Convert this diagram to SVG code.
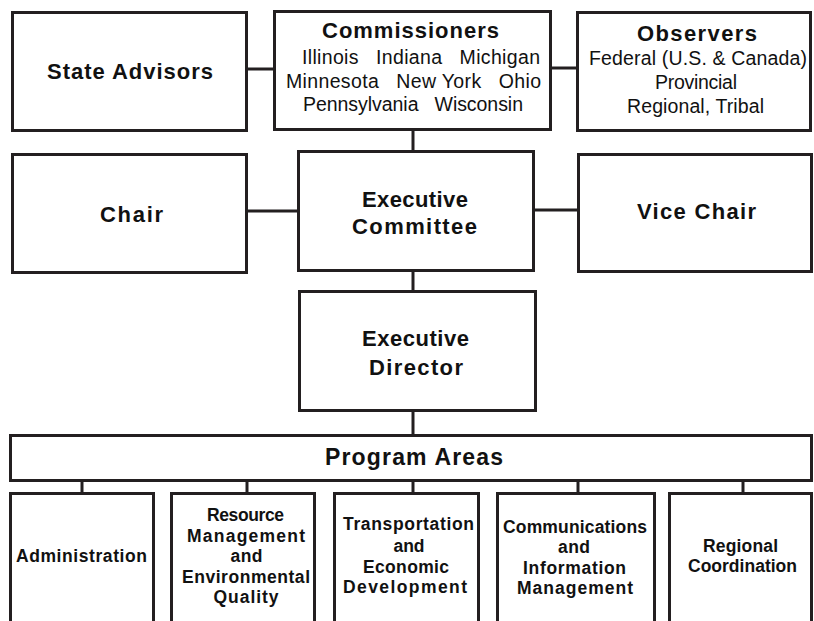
<svg xmlns="http://www.w3.org/2000/svg" width="814" height="621" viewBox="0 0 814 621">
<style>
.box{fill:#fff;stroke:#231f20;stroke-width:3}
.ln{stroke:#231f20;stroke-width:3;fill:none}
text{font-family:"Liberation Sans",Arial,sans-serif;fill:#111}
.b{font-weight:bold;text-anchor:middle}
.big{font-size:22px}
.mid{font-size:22px}
.sm{font-size:17.5px}
.r{font-weight:normal;font-size:19.5px}
.c{text-anchor:middle}
</style>
<rect width="814" height="621" fill="#fff"/>
<g id="connectors">
<line class="ln" x1="247" y1="69" x2="275" y2="69"/>
<line class="ln" x1="550" y1="68" x2="579" y2="68"/>
<line class="ln" x1="413" y1="130" x2="413" y2="152"/>
<line class="ln" x1="247" y1="211" x2="299" y2="211"/>
<line class="ln" x1="533" y1="210" x2="579" y2="210"/>
<line class="ln" x1="413" y1="270" x2="413" y2="292"/>
<line class="ln" x1="413" y1="410" x2="413" y2="436"/>
<line class="ln" x1="82" y1="480" x2="82" y2="494"/>
<line class="ln" x1="247" y1="480" x2="247" y2="494"/>
<line class="ln" x1="413" y1="480" x2="413" y2="494"/>
<line class="ln" x1="578" y1="480" x2="578" y2="494"/>
<line class="ln" x1="743" y1="480" x2="743" y2="494"/>
</g>
<g id="state-advisors">
<rect class="box" x="12.5" y="12.5" width="234" height="118"/>
<text class="b big" x="130" y="79" textLength="166" lengthAdjust="spacing">State Advisors</text>
</g>
<g id="commissioners">
<rect class="box" x="274.5" y="11.5" width="276" height="118"/>
<text class="b mid" x="410.5" y="38" textLength="177" lengthAdjust="spacing">Commissioners</text>
<text class="r" x="302" y="64" xml:space="preserve" textLength="238" lengthAdjust="spacing">Illinois   Indiana   Michigan</text>
<text class="r" x="286" y="88" xml:space="preserve" textLength="255" lengthAdjust="spacing">Minnesota   New York   Ohio</text>
<text class="r" x="303" y="111" xml:space="preserve" textLength="220" lengthAdjust="spacing">Pennsylvania   Wisconsin</text>
</g>
<g id="observers">
<rect class="box" x="577.5" y="12.5" width="233" height="118"/>
<text class="b mid" x="697" y="41" textLength="120" lengthAdjust="spacing">Observers</text>
<text class="r c" x="698" y="65" textLength="218" lengthAdjust="spacing">Federal (U.S. &amp; Canada)</text>
<text class="r c" x="696" y="89" textLength="82" lengthAdjust="spacing">Provincial</text>
<text class="r c" x="695.5" y="113" textLength="137" lengthAdjust="spacing">Regional, Tribal</text>
</g>
<g id="chair">
<rect class="box" x="12.5" y="154.5" width="234" height="118"/>
<text class="b big" x="131.5" y="222" textLength="63" lengthAdjust="spacing">Chair</text>
</g>
<g id="executive-committee">
<rect class="box" x="298.5" y="151.5" width="235" height="119"/>
<text class="b mid" x="415" y="207" textLength="106" lengthAdjust="spacing">Executive</text>
<text class="b mid" x="414.5" y="234" textLength="125" lengthAdjust="spacing">Committee</text>
</g>
<g id="vice-chair">
<rect class="box" x="578.5" y="154.5" width="233" height="117"/>
<text class="b big" x="696.5" y="219" textLength="119" lengthAdjust="spacing">Vice Chair</text>
</g>
<g id="executive-director">
<rect class="box" x="299.5" y="291.5" width="236" height="119"/>
<text class="b mid" x="415.5" y="346" textLength="107" lengthAdjust="spacing">Executive</text>
<text class="b mid" x="416" y="375" textLength="94" lengthAdjust="spacing">Director</text>
</g>
<g id="program-areas">
<rect class="box" x="10.5" y="435.5" width="801" height="45"/>
<text class="b" style="font-size:23px" x="414" y="465" textLength="178" lengthAdjust="spacing">Program Areas</text>
</g>
<g id="administration">
<rect class="box" x="10.5" y="493.5" width="143" height="150"/>
<text class="b sm" x="81.5" y="562" textLength="131" lengthAdjust="spacing">Administration</text>
</g>
<g id="resource-management">
<rect class="box" x="171.5" y="493.5" width="143" height="150"/>
<text class="b sm" x="245.5" y="521" textLength="77" lengthAdjust="spacing">Resource</text>
<text class="b sm" x="246" y="542" textLength="118" lengthAdjust="spacing">Management</text>
<text class="b sm" x="246.5" y="562" textLength="32" lengthAdjust="spacing">and</text>
<text class="b sm" x="246" y="583" textLength="128" lengthAdjust="spacing">Environmental</text>
<text class="b sm" x="246" y="603" textLength="65" lengthAdjust="spacing">Quality</text>
</g>
<g id="transportation">
<rect class="box" x="334.5" y="493.5" width="144" height="150"/>
<text class="b sm" x="408.5" y="530" textLength="131" lengthAdjust="spacing">Transportation</text>
<text class="b sm" x="409" y="552" textLength="31" lengthAdjust="spacing">and</text>
<text class="b sm" x="406" y="573" textLength="86" lengthAdjust="spacing">Economic</text>
<text class="b sm" x="405" y="593" textLength="124" lengthAdjust="spacing">Development</text>
</g>
<g id="communications">
<rect class="box" x="497.5" y="493.5" width="157" height="150"/>
<text class="b sm" x="575" y="533" textLength="144" lengthAdjust="spacing">Communications</text>
<text class="b sm" x="574" y="553" textLength="32" lengthAdjust="spacing">and</text>
<text class="b sm" x="574.5" y="574" textLength="103" lengthAdjust="spacing">Information</text>
<text class="b sm" x="575" y="594" textLength="116" lengthAdjust="spacing">Management</text>
</g>
<g id="regional-coordination">
<rect class="box" x="669.5" y="493.5" width="142" height="150"/>
<text class="b sm" x="740.5" y="552" textLength="75" lengthAdjust="spacing">Regional</text>
<text class="b sm" x="742.5" y="572" textLength="109" lengthAdjust="spacing">Coordination</text>
</g>
</svg>
